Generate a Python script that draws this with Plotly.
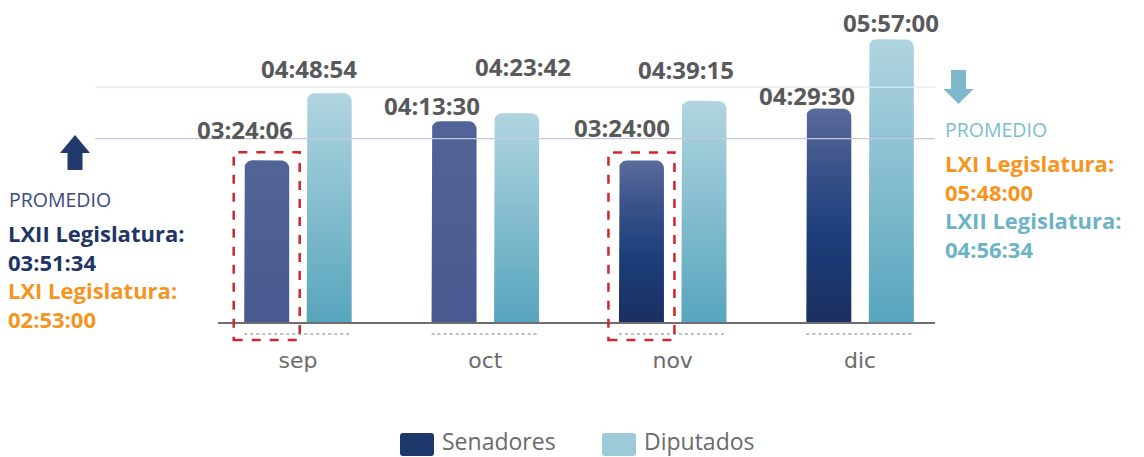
import plotly.graph_objects as go

# ---------------- data ----------------
MONTHS = ["sep", "oct", "nov", "dic"]
SENADORES = ["03:24:06", "04:13:30", "03:24:00", "04:29:30"]
DIPUTADOS = ["04:48:54", "04:23:42", "04:39:15", "05:57:00"]
HIGHLIGHT_SEN = ["sep", "nov"]
PROM_SEN_LXII = "03:51:34"
PROM_SEN_LXI = "02:53:00"
PROM_DIP_LXI = "05:48:00"
PROM_DIP_LXII = "04:56:34"


def to_min(s):
    h, m, sec = (int(v) for v in s.split(":"))
    return h * 60 + m + sec / 60.0


sen_v = [to_min(s) for s in SENADORES]
dip_v = [to_min(s) for s in DIPUTADOS]

# ---------------- layout geometry (style) ----------------
W, H = 1144, 457
ML, MR, MT, MB = 218, 209, 10, 135
PW = W - ML - MR
PH = H - MT - MB
X0, X1 = -0.4267, 3.40
YMAX = 393.9
UX = (X1 - X0) / PW          # data units per px (x)
UY = YMAX / PH               # data units per px (y)

BAR_OFF = 31.25 * UX
BAR_HW = 22.5 * UX
RAD_PX = 8

SEN_FLAT = [[0, "#47598e"], [1, "#526497"]]
SEN_GRAD = [[0, "#1c2f60"], [0.4, "#1b3e7a"], [0.72, "#3a5289"], [1, "#5a6b9b"]]
SEN_SCALES = [SEN_FLAT, SEN_FLAT, SEN_GRAD, SEN_GRAD]
DIP_SCALE = [[0, "#58a5bd"], [1, "#b0d5e0"]]

FONT_B = "Open Sans"
LABEL_C = "#58595b"
NAVY = "#1e3565"
ORANGE = "#f7941d"
LIGHTBLUE = "#6db3c8"

SEN_LABEL_SHIFT = [(-22, 31), (-22, 16), (-19, 33), (-22, 13)]
DIP_LABEL_SHIFT = [(-20, 25), (6, 47), (-18, 31), (0, 17)]


def xp(px):
    return (px - ML) / PW


def yp(py):
    return (MT + PH - py) / PH


def data_to_px_x(x):
    return ML + (x - X0) / UX


def bar_path(xc, v):
    import math
    rx, ry = RAD_PX * UX, RAD_PX * UY
    xl, xr = xc - BAR_HW, xc + BAR_HW
    xs, ys = [xl], [0]
    xs.append(xl); ys.append(v - ry)
    for k in range(1, 9):
        a = math.pi - k * (math.pi / 2) / 8
        xs.append(xl + rx + rx * math.cos(a)); ys.append(v - ry + ry * math.sin(a))
    for k in range(1, 9):
        a = math.pi / 2 - k * (math.pi / 2) / 8
        xs.append(xr - rx + rx * math.cos(a)); ys.append(v - ry + ry * math.sin(a))
    xs.append(xr); ys.append(0)
    xs.append(xl); ys.append(0)
    return xs, ys


fig = go.Figure()

for i, m in enumerate(MONTHS):
    for xc, v, scale, name in [(i - BAR_OFF, sen_v[i], SEN_SCALES[i], "Senadores"),
                               (i + BAR_OFF, dip_v[i], DIP_SCALE, "Diputados")]:
        xs, ys = bar_path(xc, v)
        fig.add_trace(go.Scatter(
            x=xs, y=ys, mode="lines", fill="toself",
            line=dict(width=0, color="rgba(0,0,0,0)"),
            fillgradient=dict(type="vertical", colorscale=scale, start=0, stop=v),
            showlegend=False, hoverinfo="skip", name=name))

annotations = []
shapes = []

# value labels
for i in range(len(MONTHS)):
    for xc, v, txt, (dx, dy) in [(i - BAR_OFF, sen_v[i], SENADORES[i], SEN_LABEL_SHIFT[i]),
                                 (i + BAR_OFF, dip_v[i], DIPUTADOS[i], DIP_LABEL_SHIFT[i])]:
        annotations.append(dict(x=xc, y=v, xref="x", yref="y", text=txt, showarrow=False,
                                xanchor="center", yanchor="middle", xshift=dx, yshift=dy,
                                font=dict(family=FONT_B, size=24, color=LABEL_C, weight="bold")))

# promedio reference lines (LXII)
for val, col in [(to_min(PROM_DIP_LXII), "#dcecf1"), (to_min(PROM_SEN_LXII), "#c6c8de")]:
    shapes.append(dict(type="line", xref="paper", yref="y", x0=xp(95), x1=1, y0=val, y1=val,
                       line=dict(color=col, width=1.3), layer="above"))

# dotted lines under each group & red highlight boxes
for i, m in enumerate(MONTHS):
    sx = data_to_px_x(i - BAR_OFF)
    dx_ = data_to_px_x(i + BAR_OFF)
    shapes.append(dict(type="line", xref="paper", yref="paper",
                       x0=xp(sx - 22.5), x1=xp(dx_ + 22.5), y0=yp(334), y1=yp(334),
                       line=dict(color="#a8a8a8", width=1.4, dash="dot")))
    if m in HIGHLIGHT_SEN:
        top_py = MT + PH - sen_v[i] / UY - 8
        shapes.append(dict(type="rect", xref="paper", yref="paper",
                           x0=xp(sx - 33), x1=xp(sx + 33), y0=yp(340), y1=yp(top_py),
                           line=dict(color="#d0262d", width=2.5, dash="dash"),
                           fillcolor="rgba(0,0,0,0)", layer="above"))

# arrows
def poly(points):
    return "M " + " L ".join(f"{xp(a):.5f},{yp(b):.5f}" for a, b in points) + " Z"

shapes.append(dict(type="path", xref="paper", yref="paper",
                   path=poly([(75, 135), (90, 153), (82.5, 153), (82.5, 170), (67.5, 170), (67.5, 153), (60, 153)]),
                   fillcolor="#1f3a6b", line=dict(width=0)))
shapes.append(dict(type="path", xref="paper", yref="paper",
                   path=poly([(951, 70), (966, 70), (966, 89), (973.5, 89), (958.5, 104), (943.5, 89), (951, 89)]),
                   fillcolor="#7db8cc", line=dict(width=0)))

# side texts
def side(x, y, text, color, size=24, bold=True):
    annotations.append(dict(x=xp(x), y=yp(y), xref="paper", yref="paper", text=text,
                            showarrow=False, xanchor="left", yanchor="middle", align="left",
                            font=dict(family=FONT_B, size=size, color=color,
                                      weight="bold" if bold else "normal")))


def span(txt, col):
    return f"<span style='color:{col}'>{txt}</span>"


side(7, 199, "PROMEDIO", "#3a4b7e", 19.5, False)
side(6, 276, span("LXII Legislatura:", NAVY) + "<br>" + span(PROM_SEN_LXII, NAVY) + "<br>" +
     span("LXI Legislatura:", ORANGE) + "<br>" + span(PROM_SEN_LXI, ORANGE), NAVY, 22)

side(943, 129.5, "PROMEDIO", "#7dbdd0", 19.5, False)
side(943, 206, span("LXI Legislatura:", ORANGE) + "<br>" + span(PROM_DIP_LXI, ORANGE) + "<br>" +
     span("LXII Legislatura:", LIGHTBLUE) + "<br>" + span(PROM_DIP_LXII, LIGHTBLUE), ORANGE, 22)

# legend (custom)
def rounded_rect(x0, y0, x1, y1, r=3):
    return (f"M {xp(x0 + r)},{yp(y0)} L {xp(x1 - r)},{yp(y0)} Q {xp(x1)},{yp(y0)} {xp(x1)},{yp(y0 + r)} "
            f"L {xp(x1)},{yp(y1 - r)} Q {xp(x1)},{yp(y1)} {xp(x1 - r)},{yp(y1)} "
            f"L {xp(x0 + r)},{yp(y1)} Q {xp(x0)},{yp(y1)} {xp(x0)},{yp(y1 - r)} "
            f"L {xp(x0)},{yp(y0 + r)} Q {xp(x0)},{yp(y0)} {xp(x0 + r)},{yp(y0)} Z")

for x0, col, name in [(400, "#1c386b", "Senadores"), (602, "#9ccad8", "Diputados")]:
    shapes.append(dict(type="path", xref="paper", yref="paper", path=rounded_rect(x0, 433, x0 + 34, 456),
                       fillcolor=col, line=dict(width=0)))
    annotations.append(dict(x=xp(x0 + 40), y=yp(441), xref="paper", yref="paper", text=name,
                            showarrow=False, xanchor="left", yanchor="middle",
                            font=dict(family=FONT_B, size=23, color="#6a6a6a")))

fig.update_layout(
    width=W, height=H, autosize=False,
    margin=dict(l=ML, r=MR, t=MT, b=MB),
    paper_bgcolor="white", plot_bgcolor="white",
    showlegend=False,
    annotations=annotations, shapes=shapes,
    xaxis=dict(range=[X0, X1], tickmode="array", tickvals=list(range(len(MONTHS))), ticktext=MONTHS,
               showgrid=False, zeroline=False, showline=True, linecolor="#6d6e71", linewidth=2,
               ticks="outside", ticklen=18, tickcolor="rgba(0,0,0,0)",
               tickfont=dict(family="DejaVu Sans", size=22, color="#6b6b6b"), fixedrange=True),
    yaxis=dict(range=[0, YMAX], visible=False, fixedrange=True),
)

fig.write_html("out.html", config={"displayModeBar": False},
               post_script="document.body.style.margin='0px';document.body.style.overflow='hidden';")
